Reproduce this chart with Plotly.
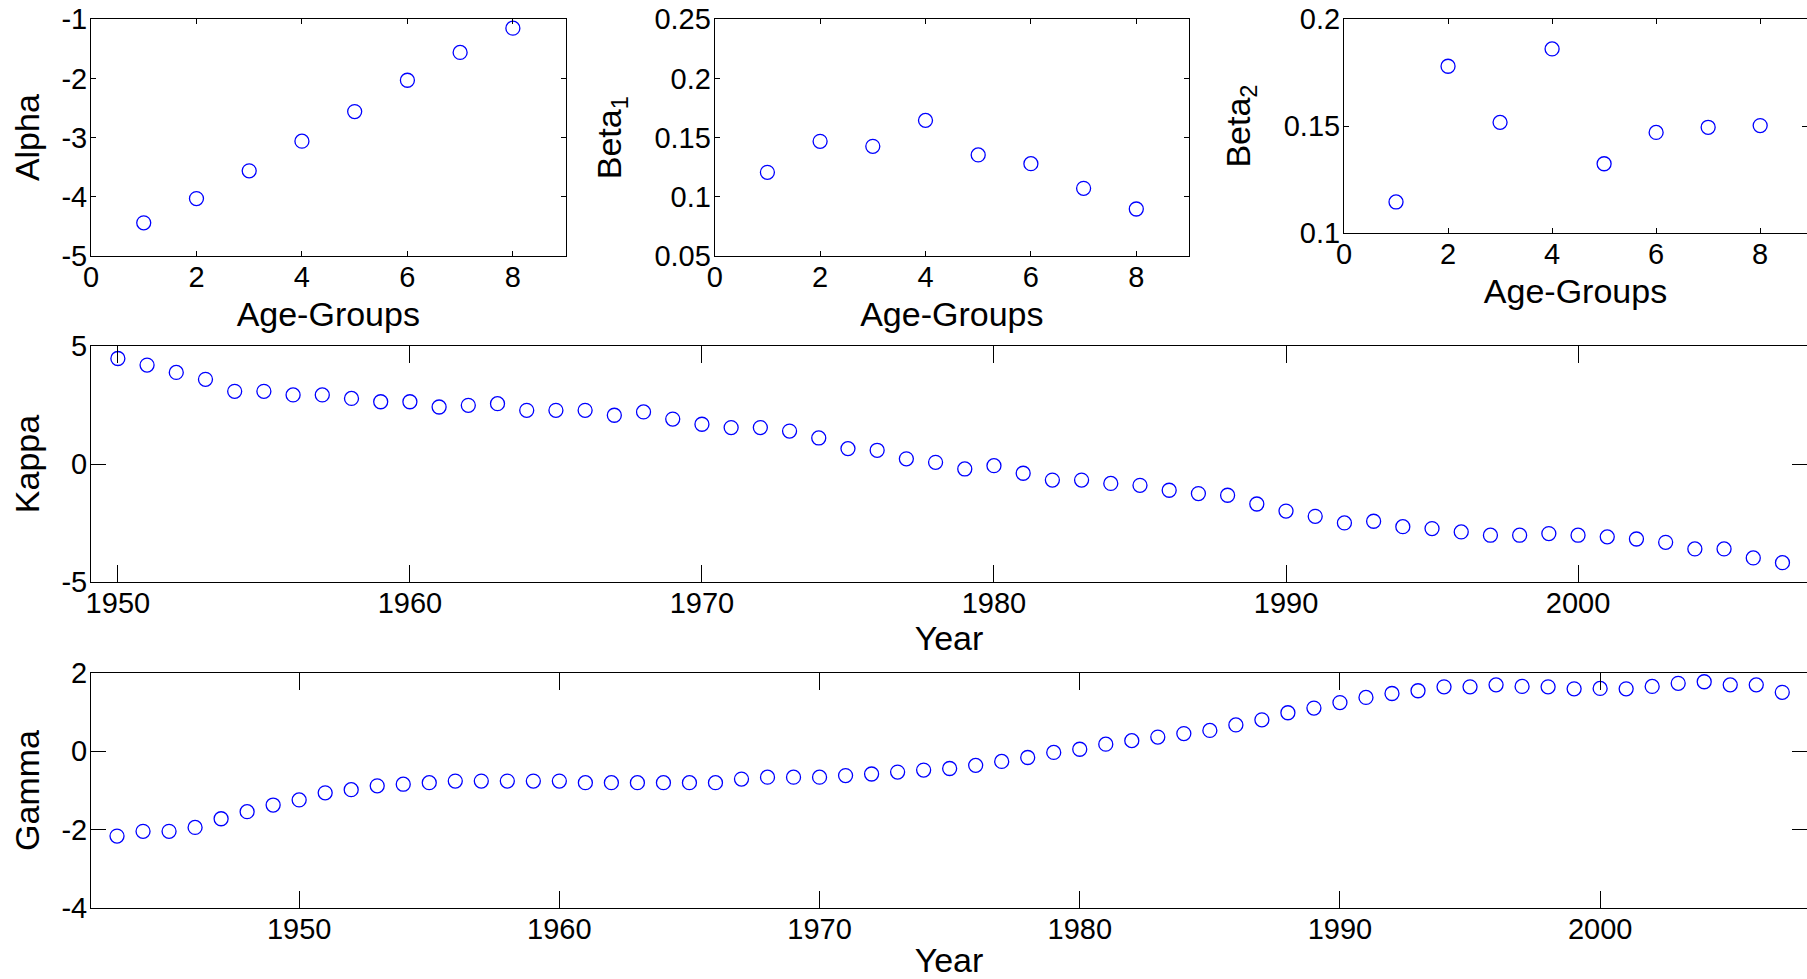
import plotly.graph_objects as go

# ---------------- data ----------------
age_groups = [1, 2, 3, 4, 5, 6, 7, 8]
alpha = [-4.44, -4.03, -3.56, -3.06, -2.56, -2.03, -1.56, -1.15]
beta1 = [0.1207, 0.1469, 0.1427, 0.1646, 0.1354, 0.1280, 0.1072, 0.0897]
beta2 = [0.1144, 0.1780, 0.1517, 0.1861, 0.1323, 0.1470, 0.1494, 0.1502]

kappa_years = list(range(1950, 2008))
kappa = [4.46, 4.18, 3.87, 3.58, 3.07, 3.07, 2.92, 2.92, 2.77, 2.63,
         2.63, 2.41, 2.48, 2.55, 2.27, 2.27, 2.27, 2.06, 2.20, 1.90,
         1.68, 1.54, 1.54, 1.39, 1.10, 0.65, 0.58, 0.22, 0.07, -0.21,
         -0.07, -0.39, -0.68, -0.68, -0.82, -0.90, -1.11, -1.25, -1.32, -1.69,
         -1.99, -2.21, -2.49, -2.42, -2.65, -2.73, -2.87, -3.01, -3.01, -2.94,
         -3.01, -3.08, -3.17, -3.31, -3.59, -3.59, -3.97, -4.17]

gamma_years = list(range(1943, 2008))
gamma = [-2.16, -2.04, -2.04, -1.94, -1.72, -1.54, -1.37, -1.24, -1.06, -0.98,
         -0.88, -0.84, -0.80, -0.76, -0.76, -0.76, -0.76, -0.76, -0.80, -0.80,
         -0.80, -0.80, -0.80, -0.80, -0.71, -0.66, -0.66, -0.66, -0.62, -0.58,
         -0.53, -0.48, -0.44, -0.36, -0.26, -0.16, -0.03, 0.05, 0.18, 0.27,
         0.36, 0.45, 0.53, 0.67, 0.80, 0.98, 1.10, 1.24, 1.37, 1.47,
         1.54, 1.64, 1.64, 1.69, 1.65, 1.64, 1.59, 1.60, 1.59, 1.65,
         1.73, 1.77, 1.69, 1.69, 1.50]

age_ticks = [0, 2, 4, 6, 8]
age_ticktext = ["0", "2", "4", "6", "8"]
alpha_ticks = [-5, -4, -3, -2, -1]
alpha_ticktext = ["-5", "-4", "-3", "-2", "-1"]
beta1_ticks = [0.05, 0.1, 0.15, 0.2, 0.25]
beta1_ticktext = ["0.05", "0.1", "0.15", "0.2", "0.25"]
beta2_ticks = [0.1, 0.15, 0.2]
beta2_ticktext = ["0.1", "0.15", "0.2"]
kappa_yticks = [-5, 0, 5]
kappa_yticktext = ["-5", "0", "5"]
year_ticks = [1950, 1960, 1970, 1980, 1990, 2000]
year_ticktext = ["1950", "1960", "1970", "1980", "1990", "2000"]
gamma_yticks = [-4, -2, 0, 2]
gamma_yticktext = ["-4", "-2", "0", "2"]

# ---------------- style ----------------
W, H = 1807, 979
FONT = "Arial, Liberation Sans, Helvetica, sans-serif"
TICKFONT = dict(family=FONT, size=29, color="black")
TITLEFONT = dict(family=FONT, size=34, color="black")
MARKER = dict(symbol="circle-open", size=14, color="#0000FF",
              line=dict(width=1.3, color="#0000FF"))


def ax(domain, rng, tickvals, ticktext, ticklen, title, standoff, anchor, lstand):
    return dict(domain=domain, range=rng, tickmode="array", tickvals=tickvals,
                ticktext=ticktext, automargin=False,
                showline=True, linecolor="black", linewidth=1, mirror="ticks",
                ticks="inside", ticklen=ticklen, tickwidth=1, tickcolor="black",
                showgrid=False, zeroline=False, tickfont=TICKFONT,
                ticklabelstandoff=lstand, anchor=anchor,
                title=dict(text=title, font=TITLEFONT, standoff=standoff))


def px_x(a, b):
    return [a / W, min(b / W, 1.0)]


def px_y(top, bottom):
    return [1 - bottom / H, 1 - top / H]


fig = go.Figure()
fig.add_trace(go.Scatter(x=age_groups, y=alpha, mode="markers", marker=MARKER,
                         xaxis="x", yaxis="y", showlegend=False))
fig.add_trace(go.Scatter(x=age_groups, y=beta1, mode="markers", marker=MARKER,
                         xaxis="x2", yaxis="y2", showlegend=False))
fig.add_trace(go.Scatter(x=age_groups, y=beta2, mode="markers", marker=MARKER,
                         xaxis="x3", yaxis="y3", showlegend=False))
fig.add_trace(go.Scatter(x=kappa_years, y=kappa, mode="markers", marker=MARKER,
                         xaxis="x4", yaxis="y4", showlegend=False))
fig.add_trace(go.Scatter(x=gamma_years, y=gamma, mode="markers", marker=MARKER,
                         xaxis="x5", yaxis="y5", showlegend=False))

XS = -5   # x tick label standoff
YS = -3   # y tick label standoff
fig.update_layout(
    width=W, height=H,
    margin=dict(l=0, r=0, t=0, b=0),
    paper_bgcolor="white", plot_bgcolor="white",
    font=dict(family=FONT, color="black"),
    xaxis=ax(px_x(91, 565.6), [0, 9], age_ticks, age_ticktext, 5, "Age-Groups", 10, "y", XS),
    yaxis=ax(px_y(19.3, 256), [-5, -1], alpha_ticks, alpha_ticktext, 5, "Alpha", 11, "x", YS),
    xaxis2=ax(px_x(714.7, 1189), [0, 9], age_ticks, age_ticktext, 5, "Age-Groups", 10, "y2", XS),
    yaxis2=ax(px_y(19.3, 256), [0.05, 0.25], beta1_ticks, beta1_ticktext, 5,
              "Beta<sub>1</sub>", 22, "x2", YS),
    xaxis3=ax(px_x(1344, 1807), [0, 8.9], age_ticks, age_ticktext, 5, "Age-Groups", 10, "y3", XS),
    yaxis3=ax(px_y(19.3, 232.7), [0.1, 0.2], beta2_ticks, beta2_ticktext, 5,
              "Beta<sub>2</sub>", 22, "x3", YS),
    xaxis4=ax(px_x(91, 1807), [1949.08, 2007.84], year_ticks, year_ticktext, 17, "Year", 4, "y4", XS),
    yaxis4=ax(px_y(345.7, 582.3), [-5, 5], kappa_yticks, kappa_yticktext, 15, "Kappa", 11, "x4", YS),
    xaxis5=ax(px_x(91, 1807), [1942, 2007.95], year_ticks, year_ticktext, 17, "Year", 25, "y5", XS),
    yaxis5=ax(px_y(672.7, 908.3), [-4, 2], gamma_yticks, gamma_yticktext, 15, "Gamma", 11, "x5", YS),
)

fig.write_html("out.html")
